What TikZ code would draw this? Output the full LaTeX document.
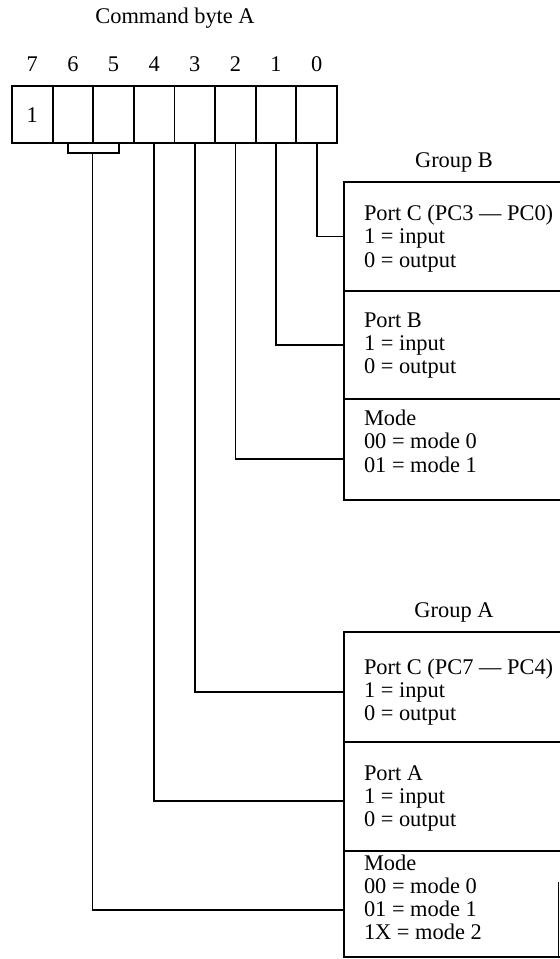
\documentclass[tikz,border=0pt]{standalone}
\usepackage{fontspec}
\setmainfont{Liberation Serif}
\begin{document}
\begin{tikzpicture}[x=0.5pt,y=-0.5pt,
  every node/.style={font=\fontsize{11.2}{13}\selectfont, inner sep=0pt, outer sep=0pt},
  cell/.style={draw, line width=0.9pt, minimum width=20.3125pt, minimum height=28.5pt},
  box/.style={draw, line width=0.9pt, minimum width=109pt},
  wire/.style={line width=0.9pt},
  txt/.style={anchor=base west},
  lbl/.style={anchor=base}]
\useasboundingbox (0,0) rectangle (560,959);

% title and register
\node[lbl] (title) at (175,23) {Command byte A};
\foreach \i in {0,...,7}{
  \node[cell] (c\i) at ({12+40.625*(7.5-\i)},114.5) {};
  \node[lbl] (b\i) at ({12+40.625*(7.5-\i)},71) {\i};
}
\node[lbl] (one) at (32.3,122) {1};

% group labels
\node[lbl] (gB) at (454,167) {Group B};
\node[lbl] (gA) at (454,617) {Group A};

% boxes (right edges lie beyond the page edge)
\node[box, minimum height=54.5pt] (pcB) at (453,236.5) {};
\node[box, minimum height=54pt]   (pB)  at (453,345) {};
\node[box, minimum height=50.5pt] (mdB) at (453,449.5) {};
\node[box, minimum height=55pt]   (pcA) at (453,687) {};
\node[box, minimum height=54.5pt] (pA)  at (453,796.5) {};
\node[box, minimum height=53pt]   (mdA) at (453,904) {};
\draw[wire] (558.5,882) -- (558.5,957);

% box texts
\node[txt] (t1) at (364,220) {Port C (PC3 — PC0)};
\node[txt] (t2) at (364,243) {1 = input};
\node[txt] (t3) at (364,267) {0 = output};
\node[txt] (t4) at (364,327) {Port B};
\node[txt] (t5) at (364,350) {1 = input};
\node[txt] (t6) at (364,373) {0 = output};
\node[txt] (t7) at (364,425) {Mode};
\node[txt] (t8) at (364,448) {00 = mode 0};
\node[txt] (t9) at (364,472) {01 = mode 1};
\node[txt] (u1) at (364,674) {Port C (PC7 — PC4)};
\node[txt] (u2) at (364,697) {1 = input};
\node[txt] (u3) at (364,720) {0 = output};
\node[txt] (u4) at (364,780) {Port A};
\node[txt] (u5) at (364,803) {1 = input};
\node[txt] (u6) at (364,826) {0 = output};
\node[txt] (u7) at (364,870) {Mode};
\node[txt] (u8) at (364,893) {00 = mode 0};
\node[txt] (u9) at (364,916) {01 = mode 1};
\node[txt] (u10) at (364,939) {1X = mode 2};

% connectors
\draw[wire] (c0.south) |- (pcB.west);
\draw[wire] (c1.south) |- (pB.west);
\draw[wire] (c2.south) |- ([yshift=-30pt]mdB.north west);
\draw[wire] (c3.south) |- ([yshift=-2.5pt]pcA.west);
\draw[wire] (c4.south) |- ([yshift=-2.25pt]pA.west);
\coordinate (k6) at (68,153);
\coordinate (k5) at (119,153);
\coordinate (km) at (92.5,153);
\draw[wire] (c6.south -| k6) -- (k6) -- (k5) -- (c5.south -| k5);
\draw[wire] (km) |- ([yshift=-3pt]mdA.west);
\end{tikzpicture}
\end{document}
